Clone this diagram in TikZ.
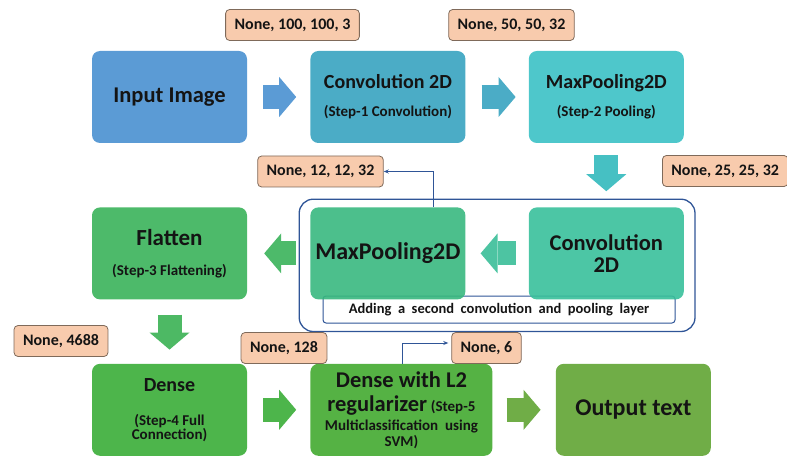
\documentclass[tikz,border=0pt]{standalone}
\usepackage{fontspec}
\setmainfont{Carlito}
\usetikzlibrary{positioning,fit,arrows.meta}

\definecolor{txt}{HTML}{141414}
\definecolor{cinput}{HTML}{5B9BD5}
\definecolor{cconv}{HTML}{4BACC6}
\definecolor{cpool}{HTML}{4EC7CB}
\definecolor{cconvb}{HTML}{39C09B}
\definecolor{cpoolb}{HTML}{38B87F}
\definecolor{carrb}{HTML}{4DC4A2}
\definecolor{cflat}{HTML}{4DBA6A}
\definecolor{cdense}{HTML}{4DB54B}
\definecolor{cdensel}{HTML}{55B244}
\definecolor{cout}{HTML}{70AD47}
\definecolor{lblfill}{HTML}{F8CBAD}
\definecolor{lblline}{HTML}{7F6A5A}
\definecolor{linkc}{HTML}{2F5597}

\newcommand{\subf}{\fontsize{15}{17}\selectfont}

\begin{document}
\begin{tikzpicture}[x=1pt, y=-1pt, node distance=64pt and 63pt,
	layer/.style = {rounded corners=8pt, minimum width=155pt, minimum height=92pt, align=center, text=txt, font=\fontsize{20}{23}\selectfont\bfseries},
	shapelbl/.style = {draw=lblline, fill=lblfill, rounded corners=4pt, line width=0.8pt, minimum height=31pt, inner xsep=9pt, text=txt, font=\fontsize{16}{18}\selectfont\bfseries},
	capbox/.style = {draw=linkc, fill=white, rounded corners=3pt, line width=1pt, minimum width=352pt, minimum height=27pt, inner sep=0pt, text=txt, font=\fontsize{14.5}{16}\selectfont\bfseries},
	grp/.style = {draw=linkc, rounded corners=14pt, line width=1.3pt, inner xsep=11pt, inner ysep=8pt},
	blk/.style = {line width=24pt, -{Triangle[length=17pt, width=40pt, line width=0pt]}},
	link/.style = {draw=linkc, line width=1pt, -{Stealth[length=5pt, width=4pt]}}]
	\useasboundingbox (0,0) rectangle (787,457);
	% caption of the second block, under its boxes
	\node[capbox] (cap) at (499,309.5) {Adding\ \ a\ \ second\ \ convolution\ \ and\ \ pooling\ \ layer};
	% layers
	\node[layer, fill=cinput, font=\fontsize{22.5}{26}\selectfont\bfseries] (inp) at (169.5,97) {Input Image};
	\node[layer, fill=cconv] (conv1) [right=of inp] {Convolution 2D\\[5pt]{\subf (Step-1 Convolution)}};
	\node[layer, fill=cpool] (pool1) [right=of conv1] {MaxPooling2D\\[5pt]{\subf (Step-2 Pooling)}};
	\node[layer, fill=cconvb, fill opacity=0.9, text opacity=1, font=\fontsize{22.5}{26}\selectfont\bfseries] (conv2) [below=of pool1] {Convolution\\[-4pt]2D};
	\node[layer, fill=cpoolb, fill opacity=0.9, text opacity=1, font=\fontsize{24}{27}\selectfont\bfseries] (pool2) [left=of conv2] {MaxPooling2D};
	\node[layer, fill=cflat, font=\fontsize{23}{26}\selectfont\bfseries] (flat) [left=of pool2] {Flatten\\[4pt]{\subf (Step-3 Flattening)}};
	\node[layer, fill=cdense] (dense) [below=of flat] {Dense\\[11pt]{\subf (Step-4 Full}\\[-9pt]{\subf Connection)}};
	\node[layer, fill=cdensel, minimum width=182pt, inner xsep=2pt, font=\fontsize{22.5}{26}\selectfont\bfseries] (dl2) [right=of dense] {Dense with L2\\[-2pt]regularizer\,{\subf(Step-5}\\[-7pt]{\subf Multiclassification\ \ using}\\[-10pt]{\subf SVM)}};
	\node[layer, fill=cout, font=\fontsize{24}{27}\selectfont\bfseries] (out) [right=of dl2] {Output text};
	% second block
	\node[grp, fit=(pool2)(conv2)(cap)] (grp) {};
	% shapes
	\node[shapelbl] (s1) at (292.5,25) {None, 100, 100, 3};
	\node[shapelbl] (s2) at (511.5,25) {None, 50, 50, 32};
	\node[shapelbl, anchor=west] (s3) at (662,171) {None, 25, 25, 32};
	\node[shapelbl] (s4) at (320.5,171.5) {None, 12, 12, 32};
	\node[shapelbl] (s5) at (61,341) {None, 4688};
	\node[shapelbl] (s6) at (284,348) {None, 128};
	\node[shapelbl] (s7) at (486.5,348) {None, 6};
	% block arrows
	\draw[blk, cinput, shorten <=16pt, shorten >=14pt] (inp) -- (conv1);
	\draw[blk, cconv, shorten <=16pt, shorten >=13pt] (conv1) -- (pool1);
	\draw[blk, cpool!90!teal, shorten <=12pt, shorten >=16pt] (pool1) -- (conv2);
	\draw[blk, carrb, shorten <=13pt, shorten >=15pt] (conv2) -- (pool2);
	\draw[blk, cflat, shorten <=14pt, shorten >=17pt] (pool2) -- (flat);
	\draw[blk, cflat!80!cdense, shorten <=15pt, shorten >=14pt] (flat) -- (dense);
	\draw[blk, cdense, shorten <=16pt, shorten >=14pt] (dense) -- (dl2);
	\draw[blk, cout, shorten <=14pt, shorten >=15pt] (dl2) -- (out);
	% links
	\draw[link] ([xshift=45.5pt]pool2.north) |- (s4.east);
	\draw[link, shorten >=3pt] ([xshift=1.5pt]dl2.north) |- ([yshift=5pt]s7.west);
\end{tikzpicture}
\end{document}
